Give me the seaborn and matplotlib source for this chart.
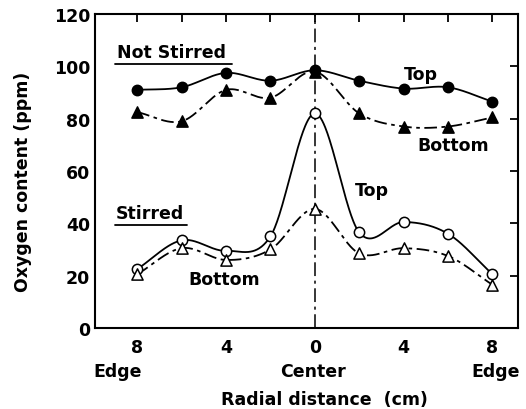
import numpy as np
import pandas as pd
import matplotlib
matplotlib.use("Agg")
import matplotlib.pyplot as plt
import seaborn as sns

# Radial positions (cm, negative = left of center)
radius = [-8, -6, -4, -2, 0, 2, 4, 6, 8]

# Oxygen content (ppm)
not_stirred_top = [91, 92, 97.5, 94.5, 98.5, 94.5, 91.5, 92, 86.5]
not_stirred_bottom = [82.5, 79, 91, 88, 98, 82, 77, 77, 80.5]
stirred_top = [22.5, 33.5, 29.5, 35, 82, 36.5, 40.5, 36, 20.5]
stirred_bottom = [20.5, 30.5, 26, 30, 45.5, 28.5, 30.5, 27.5, 16.5]

x_ticks = [-8, -6, -4, -2, 0, 2, 4, 6, 8]
x_tick_labels = ["8", "", "4", "", "0", "", "4", "", "8"]
y_ticks = [0, 20, 40, 60, 80, 100, 120]

sns.set_theme(style="white")
plt.rcParams["font.family"] = ["DejaVu Sans"]
plt.rcParams["font.weight"] = "bold"
plt.rcParams["text.color"] = "black"
plt.rcParams["axes.labelcolor"] = "black"
plt.rcParams["xtick.color"] = "black"
plt.rcParams["ytick.color"] = "black"

FS = 12.5


def smooth_curve(x, y, n=60):
    """Cubic Hermite (Catmull-Rom) curve through the given points."""
    x = np.asarray(x, float)
    y = np.asarray(y, float)
    k = len(x)
    m = np.empty(k)
    m[1:-1] = (y[2:] - y[:-2]) / (x[2:] - x[:-2])
    m[0] = (y[1] - y[0]) / (x[1] - x[0])
    m[-1] = (y[-1] - y[-2]) / (x[-1] - x[-2])
    xs_all, ys_all = [], []
    for i in range(k - 1):
        h = x[i + 1] - x[i]
        t = np.linspace(0, 1, n, endpoint=(i == k - 2))
        h00 = 2 * t ** 3 - 3 * t ** 2 + 1
        h10 = t ** 3 - 2 * t ** 2 + t
        h01 = -2 * t ** 3 + 3 * t ** 2
        h11 = t ** 3 - t ** 2
        xs_all.append(x[i] + t * h)
        ys_all.append(h00 * y[i] + h10 * h * m[i] + h01 * y[i + 1] + h11 * h * m[i + 1])
    return np.concatenate(xs_all), np.concatenate(ys_all)


fig = plt.figure(figsize=(5.26, 4.10), dpi=100)
ax = fig.add_axes([0.1806, 0.1976, 0.8042, 0.7658])

dashdot = (0, (7, 2.5, 2, 2.5))
series = [
    (not_stirred_top, "-", "o", "black"),
    (not_stirred_bottom, dashdot, "^", "black"),
    (stirred_top, "-", "o", "white"),
    (stirred_bottom, dashdot, "^", "white"),
]

# center line
ax.axvline(0, color="black", lw=1.1, ls=(0, (9, 3, 2, 3)), zorder=1)

for vals, ls, mk, face in series:
    xs, ys = smooth_curve(radius, vals)
    ax.plot(xs, ys, color="black", lw=1.3, ls=ls, zorder=2)
    df = pd.DataFrame({"r": radius, "o2": vals})
    sns.scatterplot(data=df, x="r", y="o2", marker=mk, s=55 if mk == "o" else 65,
                    color=face, edgecolor="black", linewidth=1.1, ax=ax, zorder=3)

ax.set_xlim(-9.9, 9.15)
ax.set_ylim(0, 120)
ax.set_xticks(x_ticks)
ax.set_xticklabels(x_tick_labels)
ax.set_yticks(y_ticks)
ax.tick_params(direction="in", length=6, width=1.3, top=True, right=True,
               labelsize=FS, colors="black", labelcolor="black")
ax.tick_params(axis="x", pad=7)
ax.tick_params(axis="y", pad=3.5)
for lab in ax.get_xticklabels() + ax.get_yticklabels():
    lab.set_fontweight("bold")
    lab.set_color("black")
for sp in ax.spines.values():
    sp.set_linewidth(1.5)
    sp.set_color("black")

ax.set_xlabel("")
ax.set_ylabel("")
fig.text(23 / 526, 1 - 182 / 410, "Oxygen content (ppm)", rotation=90,
         ha="center", va="center", fontsize=FS, fontweight="bold", color="black")

# lower axis annotations
tr = ax.get_xaxis_transform()
kw = dict(ha="center", va="center", fontsize=FS, color="black")
ax.text(-8.9, -0.137, "Edge", transform=tr, **kw)
ax.text(-0.1, -0.137, "Center", transform=tr, **kw)
ax.text(8.14, -0.137, "Edge", transform=tr, **kw)
ax.text(0.45, -0.225, "Radial distance  (cm)", transform=tr, **kw)

# group and curve labels
ax.text(-8.9, 105.5, "Not Stirred", ha="left", va="center", fontsize=FS, color="black")
ax.plot([-9.0, -3.73], [101, 101], color="black", lw=1.3)
ax.text(-8.95, 44, "Stirred", ha="left", va="center", fontsize=FS, color="black")
ax.plot([-9.0, -5.77], [39.4, 39.4], color="black", lw=1.3)
ax.text(4.77, 97.1, "Top", **kw)
ax.text(6.23, 70, "Bottom", **kw)
ax.text(2.55, 52.8, "Top", **kw)
ax.text(-4.1, 18.7, "Bottom", **kw)

fig.savefig("out.png", dpi=100)
